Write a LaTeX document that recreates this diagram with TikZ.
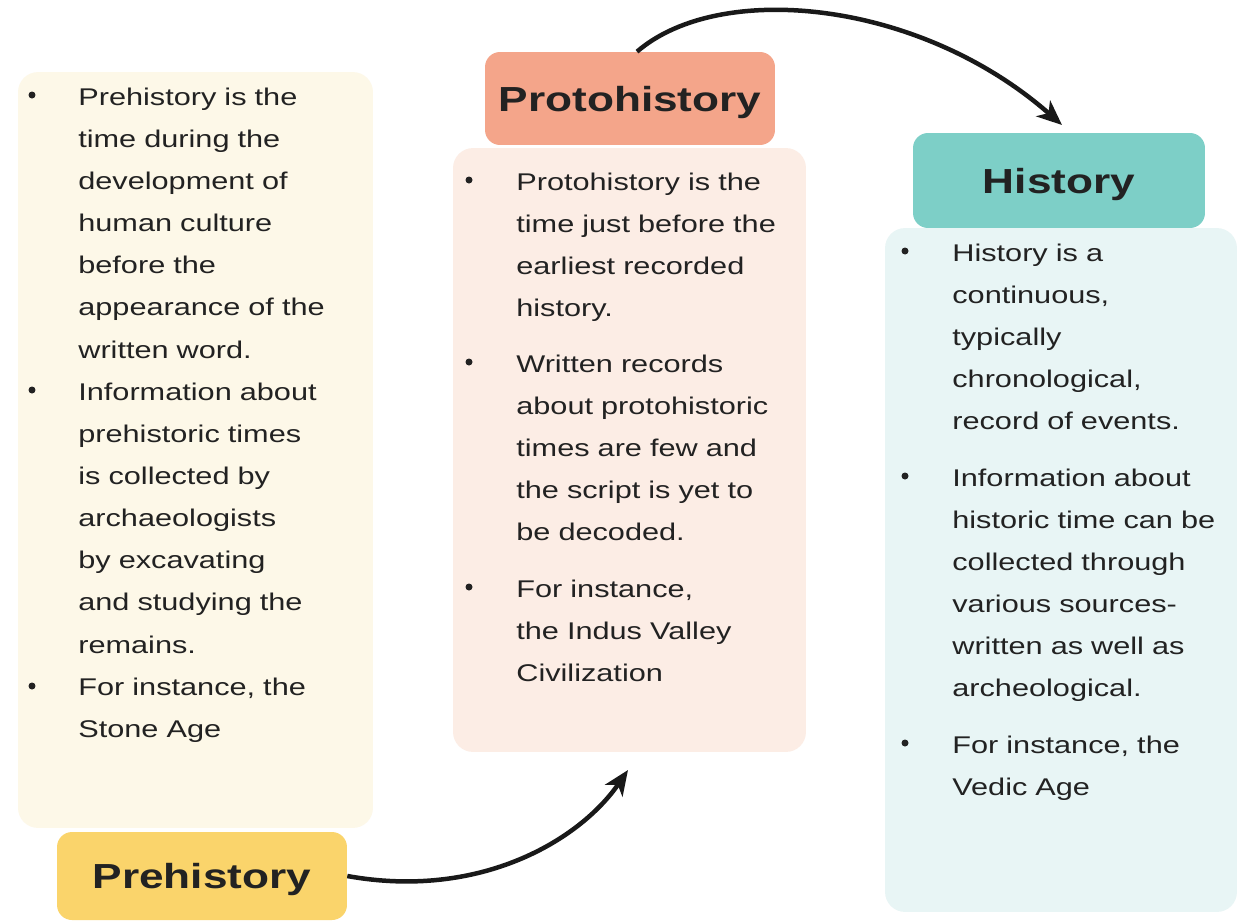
\documentclass[tikz,border=0pt]{standalone}
\usepackage{fontspec}
\setmainfont{Liberation Sans}[FakeStretch=1.27]
\usetikzlibrary{arrows.meta}
\usetikzlibrary{positioning}

\definecolor{ink}{HTML}{222222}
\definecolor{preBody}{HTML}{FDF8E8}
\definecolor{preTitle}{HTML}{FAD46B}
\definecolor{protoBody}{HTML}{FCEDE5}
\definecolor{protoTitle}{HTML}{F4A58A}
\definecolor{histBody}{HTML}{E8F5F5}
\definecolor{histTitle}{HTML}{7DCFC7}

\begin{document}
\begin{tikzpicture}
    [x=0.02cm,y=-0.02cm,
titlebox/.style={rectangle, rounded corners=0.3cm, inner sep=0pt, text depth=0pt, text=ink, font=\fontsize{19.8}{24}\selectfont\bfseries},
bodybox/.style={rectangle, rounded corners=0.4cm, inner sep=0pt},
itemtext/.style={anchor=base west, inner sep=0pt, text width=6.6cm, align=left, text=ink, font=\fontsize{13.75}{24}\selectfont},
bulletdot/.style={circle, fill=ink, inner sep=0pt, minimum size=0.14cm},
arrowline/.style={line width=0.09cm, draw=black!90, -{Stealth[length=0.5cm,width=0.42cm,inset=0.14cm]}}
]

\path[use as bounding box, fill=white] (0,0) rectangle (1237,923);

% boxes
\node[bodybox, fill=preBody, minimum width=7.1cm, minimum height=15.12cm] (preBox) at (195.5,450) {};
\node[bodybox, fill=protoBody, minimum width=7.06cm, minimum height=12.08cm] (protoBox) at (629.5,450) {};
\node[bodybox, fill=histBody, minimum width=7.04cm, minimum height=13.68cm] (histBox) at (1061,570) {};

\node[titlebox, fill=preTitle, minimum width=5.8cm, minimum height=1.76cm] (prehistory) at (202,876) {Prehistory};
\node[titlebox, fill=protoTitle, minimum width=5.8cm, minimum height=1.86cm] (protohistory) at (630,98.5) {Protohistory};
\node[titlebox, fill=histTitle, minimum width=5.84cm, minimum height=1.9cm] (history) at (1059,180.5) {History};

% prehistory items
\node[bulletdot] (preB1) at (32,95) {};
\node[bulletdot] (preB2) at (32,390) {};
\node[bulletdot] (preB3) at (32,686) {};
\node[itemtext] (pre1) at (78,105) {Prehistory is the\\time during the\\development of\\human culture\\before the\\appearance of the\\written word.};
\node[itemtext] (pre2) at (78,400) {Information about\\prehistoric times\\is collected by\\archaeologists\\by excavating\\and studying the\\remains.};
\node[itemtext] (pre3) at (78,695.5) {For instance, the\\Stone Age};

% protohistory items
\node[bulletdot] (protoB1) at (469,180) {};
\node[bulletdot] (protoB2) at (469,362) {};
\node[bulletdot] (protoB3) at (469,587) {};
\node[itemtext] (proto1) at (516,190) {Protohistory is the\\time just before the\\earliest recorded\\history.};
\node[itemtext] (proto2) at (516,372) {Written records\\about protohistoric\\times are few and\\the script is yet to\\be decoded.};
\node[itemtext] (proto3) at (516,597) {For instance,\\the Indus Valley\\Civilization};

% history items
\node[bulletdot] (histB1) at (905,251) {};
\node[bulletdot] (histB2) at (905,476) {};
\node[bulletdot] (histB3) at (905,743) {};
\node[itemtext] (hist1) at (952,261) {History is a\\continuous,\\typically\\chronological,\\record of events.};
\node[itemtext] (hist2) at (952,486) {Information about\\historic time can be\\collected through\\various sources-\\written as well as\\archeological.};
\node[itemtext] (hist3) at (952,753) {For instance, the\\Vedic Age};

% arrows
\coordinate (tip1) at (628,770);
\coordinate (tip2) at (1062,125);
\draw[arrowline] (prehistory.east) .. controls (480,900) and (580,840) .. (tip1);
\draw[arrowline] ([xshift=0.14cm]protohistory.north) .. controls (720,-20) and (920,0) .. (tip2);

\end{tikzpicture}
\end{document}
